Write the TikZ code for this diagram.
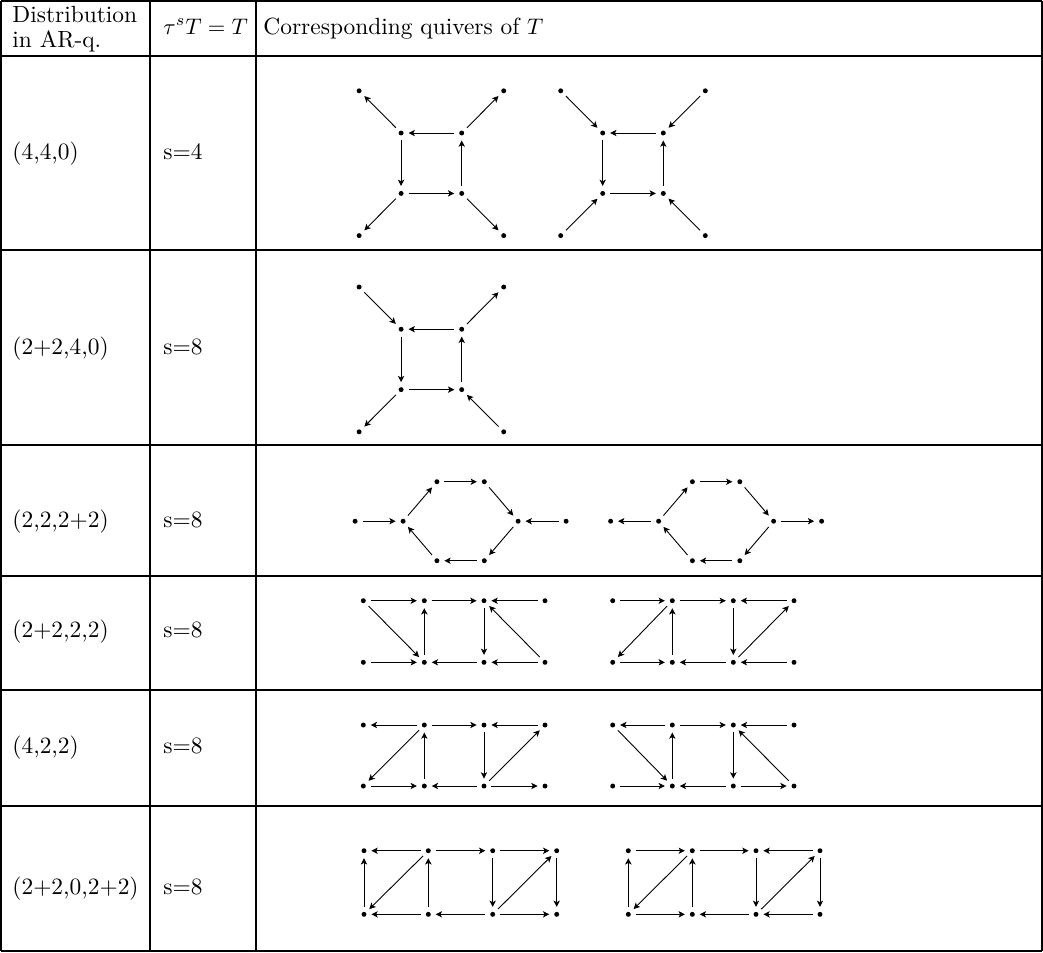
\documentclass[tikz,border=0pt]{standalone}
\usetikzlibrary{arrows.meta}
\newcommand\sqnodes[3]{%
  \begin{scope}[shift={(#2,#3)}]
    \node[dot] (#1o1) at (-72.3,-72.4) {};
    \node[dot] (#1o2) at (72.3,-72.4) {};
    \node[dot] (#1o3) at (-72.3,72.4) {};
    \node[dot] (#1o4) at (72.3,72.4) {};
    \node[dot] (#1s1) at (-30.3,-30.2) {};
    \node[dot] (#1s2) at (30.3,-30.2) {};
    \node[dot] (#1s3) at (-30.3,30.2) {};
    \node[dot] (#1s4) at (30.3,30.2) {};
  \end{scope}}
\newcommand\hexnodes[3]{%
  \begin{scope}[shift={(#2,#3)}]
    \node[dot] (#1e1) at (-105.5,0) {};
    \node[dot] (#1h1) at (-57.5,0) {};
    \node[dot] (#1t1) at (-23.7,-39.5) {};
    \node[dot] (#1t2) at (23.7,-39.5) {};
    \node[dot] (#1h2) at (57.5,0) {};
    \node[dot] (#1e2) at (105.5,0) {};
    \node[dot] (#1b1) at (-23.7,39.5) {};
    \node[dot] (#1b2) at (23.7,39.5) {};
  \end{scope}}
\newcommand\gridnodes[7]{%
  \foreach \i/\xx in {1/#2,2/#3,3/#4,4/#5} {%
    \node[dot] (#1t\i) at (\xx,#6) {};
    \node[dot] (#1b\i) at (\xx,#7) {};
  }}
\begin{document}
\begin{tikzpicture}[x=0.4444pt,y=-0.4444pt,
  dot/.style={circle,fill,inner sep=0pt,minimum size=2.2pt},
  arr/.style={-{Stealth[length=2.8pt,width=2.8pt,inset=0.7pt]},line width=0.4pt,shorten >=2pt,shorten <=2pt},
  rule/.style={line width=0.6pt},
  txt/.style={anchor=base west,inner sep=0pt,font=\fontsize{10.4}{12.5}\selectfont}]
\useasboundingbox (0,0) rectangle (1043,952);
% table rules
\foreach \yy in {1,56,250,445,576,690,806,951} \draw[rule] (1,\yy) -- (1042,\yy);
\foreach \xx in {1,150,256,1042} \draw[rule] (\xx,1) -- (\xx,951);
% header
\node[txt] (h1a) at (12,22) {Distribution};
\node[txt] (h1b) at (12,47) {in AR-q.};
\node[txt] (h2) at (163,34) {$\tau^sT=T$};
\node[txt] (h3) at (263,34) {Corresponding quivers of $T$};
% row labels
\node[txt] (r1a) at (12,159) {(4,4,0)};   \node[txt] (r1b) at (163,159) {s=4};
\node[txt] (r2a) at (12,354) {(2+2,4,0)}; \node[txt] (r2b) at (163,354) {s=8};
\node[txt] (r3a) at (12,527) {(2,2,2+2)}; \node[txt] (r3b) at (163,527) {s=8};
\node[txt] (r4a) at (12,637) {(2+2,2,2)}; \node[txt] (r4b) at (163,637) {s=8};
\node[txt] (r5a) at (12,753) {(4,2,2)};   \node[txt] (r5b) at (163,753) {s=8};
\node[txt] (r6a) at (12,894) {(2+2,0,2+2)}; \node[txt] (r6b) at (163,894) {s=8};
% row 1
\sqnodes{A}{431.4}{163.2}
\draw[arr] (As1) -- (Ao1); \draw[arr] (As2) -- (Ao2); \draw[arr] (As2) -- (As1);
\draw[arr] (As1) -- (As3); \draw[arr] (As3) -- (As4); \draw[arr] (As4) -- (As2);
\draw[arr] (As3) -- (Ao3); \draw[arr] (As4) -- (Ao4);
\sqnodes{B}{633}{163.2}
\draw[arr] (Bo1) -- (Bs1); \draw[arr] (Bo2) -- (Bs2); \draw[arr] (Bs2) -- (Bs1);
\draw[arr] (Bs1) -- (Bs3); \draw[arr] (Bs3) -- (Bs4); \draw[arr] (Bs4) -- (Bs2);
\draw[arr] (Bo3) -- (Bs3); \draw[arr] (Bo4) -- (Bs4);
% row 2
\sqnodes{C}{431.4}{359.4}
\draw[arr] (Co1) -- (Cs1); \draw[arr] (Cs2) -- (Co2); \draw[arr] (Cs2) -- (Cs1);
\draw[arr] (Cs1) -- (Cs3); \draw[arr] (Cs3) -- (Cs4); \draw[arr] (Cs4) -- (Cs2);
\draw[arr] (Cs3) -- (Co3); \draw[arr] (Co4) -- (Cs4);
% row 3
\hexnodes{D}{460.6}{521.2}
\draw[arr] (De1) -- (Dh1); \draw[arr] (Dh1) -- (Dt1); \draw[arr] (Dt1) -- (Dt2);
\draw[arr] (Dt2) -- (Dh2); \draw[arr] (De2) -- (Dh2); \draw[arr] (Dh2) -- (Db2);
\draw[arr] (Db2) -- (Db1); \draw[arr] (Db1) -- (Dh1);
\hexnodes{E}{716.1}{521.2}
\draw[arr] (Eh1) -- (Ee1); \draw[arr] (Eh1) -- (Et1); \draw[arr] (Et1) -- (Et2);
\draw[arr] (Et2) -- (Eh2); \draw[arr] (Eh2) -- (Ee2); \draw[arr] (Eh2) -- (Eb2);
\draw[arr] (Eb2) -- (Eb1); \draw[arr] (Eb1) -- (Eh1);
% row 4
\gridnodes{F}{363.3}{424.3}{484}{545}{600.7}{662.3}
\draw[arr] (Ft1) -- (Ft2); \draw[arr] (Ft2) -- (Ft3); \draw[arr] (Ft4) -- (Ft3);
\draw[arr] (Ft1) -- (Fb2); \draw[arr] (Fb2) -- (Ft2); \draw[arr] (Ft3) -- (Fb3);
\draw[arr] (Fb4) -- (Ft3); \draw[arr] (Fb1) -- (Fb2); \draw[arr] (Fb3) -- (Fb2);
\draw[arr] (Fb4) -- (Fb3);
\gridnodes{G}{612.7}{672.3}{733.3}{794}{600.7}{662.3}
\draw[arr] (Gt1) -- (Gt2); \draw[arr] (Gt2) -- (Gt3); \draw[arr] (Gt4) -- (Gt3);
\draw[arr] (Gt2) -- (Gb1); \draw[arr] (Gb2) -- (Gt2); \draw[arr] (Gt3) -- (Gb3);
\draw[arr] (Gb3) -- (Gt4); \draw[arr] (Gb1) -- (Gb2); \draw[arr] (Gb3) -- (Gb2);
\draw[arr] (Gb4) -- (Gb3);
% row 5
\gridnodes{H}{363.3}{424.3}{484}{545}{725}{786}
\draw[arr] (Ht2) -- (Ht1); \draw[arr] (Ht2) -- (Ht3); \draw[arr] (Ht4) -- (Ht3);
\draw[arr] (Ht2) -- (Hb1); \draw[arr] (Hb2) -- (Ht2); \draw[arr] (Ht3) -- (Hb3);
\draw[arr] (Hb3) -- (Ht4); \draw[arr] (Hb1) -- (Hb2); \draw[arr] (Hb3) -- (Hb2);
\draw[arr] (Hb3) -- (Hb4);
\gridnodes{I}{612.7}{672.3}{733.3}{794}{725}{786}
\draw[arr] (It2) -- (It1); \draw[arr] (It2) -- (It3); \draw[arr] (It4) -- (It3);
\draw[arr] (It1) -- (Ib2); \draw[arr] (Ib2) -- (It2); \draw[arr] (It3) -- (Ib3);
\draw[arr] (Ib4) -- (It3); \draw[arr] (Ib1) -- (Ib2); \draw[arr] (Ib3) -- (Ib2);
\draw[arr] (Ib3) -- (Ib4);
% row 6
\gridnodes{J}{364}{428.3}{492.7}{556.7}{850.7}{914.3}
\draw[arr] (Jt2) -- (Jt1); \draw[arr] (Jt2) -- (Jt3); \draw[arr] (Jt3) -- (Jt4);
\draw[arr] (Jb1) -- (Jt1); \draw[arr] (Jt2) -- (Jb1); \draw[arr] (Jb2) -- (Jt2);
\draw[arr] (Jt3) -- (Jb3); \draw[arr] (Jb3) -- (Jt4); \draw[arr] (Jt4) -- (Jb4);
\draw[arr] (Jb2) -- (Jb1); \draw[arr] (Jb3) -- (Jb2); \draw[arr] (Jb3) -- (Jb4);
\gridnodes{K}{628.3}{692.3}{756}{820}{850.7}{914.3}
\draw[arr] (Kt1) -- (Kt2); \draw[arr] (Kt2) -- (Kt3); \draw[arr] (Kt4) -- (Kt3);
\draw[arr] (Kb1) -- (Kt1); \draw[arr] (Kt2) -- (Kb1); \draw[arr] (Kb2) -- (Kt2);
\draw[arr] (Kt3) -- (Kb3); \draw[arr] (Kb3) -- (Kt4); \draw[arr] (Kt4) -- (Kb4);
\draw[arr] (Kb1) -- (Kb2); \draw[arr] (Kb3) -- (Kb2); \draw[arr] (Kb4) -- (Kb3);
\end{tikzpicture}
\end{document}
